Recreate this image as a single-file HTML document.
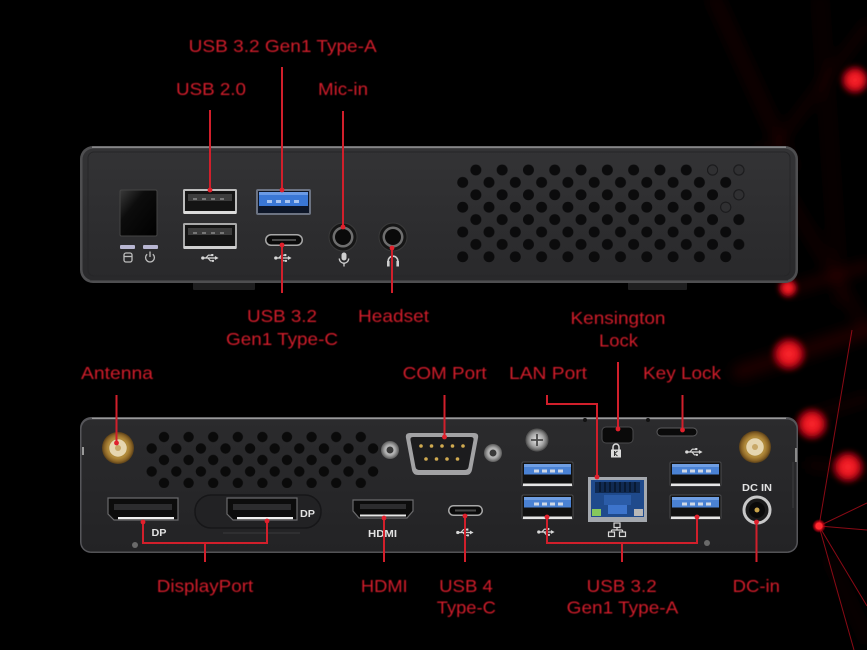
<!DOCTYPE html>
<html><head><meta charset="utf-8">
<style>
html,body{margin:0;padding:0;background:#000;}
svg{display:block}
text.l{font-family:"Liberation Sans",Arial,sans-serif;font-size:17.5px;fill:#d11f2b;}
text.w{font-family:"Liberation Sans",Arial,sans-serif;font-weight:bold;font-size:10.5px;fill:#e2e2e2;}
</style></head>
<body>
<svg width="867" height="650" viewBox="0 0 867 650" xmlns="http://www.w3.org/2000/svg">
<defs>
  <filter id="bs" x="-50%" y="-50%" width="200%" height="200%"><feGaussianBlur stdDeviation="6"/></filter>
  <filter id="bg" x="-80%" y="-80%" width="260%" height="260%"><feGaussianBlur stdDeviation="2.5"/></filter>
  <filter id="bt" x="-20%" y="-20%" width="140%" height="140%"><feGaussianBlur stdDeviation="0.5"/></filter>
  <radialGradient id="rd"><stop offset="0" stop-color="#ff2a30"/><stop offset="0.5" stop-color="#e0101c"/><stop offset="0.8" stop-color="#a00010" stop-opacity="0.6"/><stop offset="1" stop-color="#600008" stop-opacity="0"/></radialGradient>
  <linearGradient id="faceF" x1="0" y1="0" x2="0" y2="1"><stop offset="0" stop-color="#333335"/><stop offset="1" stop-color="#29292b"/></linearGradient>
  <linearGradient id="faceB" x1="0" y1="0" x2="0" y2="1"><stop offset="0" stop-color="#2b2b2d"/><stop offset="1" stop-color="#232325"/></linearGradient>
  <linearGradient id="gloss" x1="0" y1="0" x2="1" y2="1"><stop offset="0" stop-color="#3a3a3a"/><stop offset="0.35" stop-color="#0c0c0c"/><stop offset="1" stop-color="#000"/></linearGradient>
  <radialGradient id="gold"><stop offset="0" stop-color="#f2e6c8"/><stop offset="0.3" stop-color="#e0c890"/><stop offset="0.6" stop-color="#b8903e"/><stop offset="0.85" stop-color="#8a6426"/><stop offset="1" stop-color="#5a4018"/></radialGradient>
  <radialGradient id="silver"><stop offset="0" stop-color="#e8e8e8"/><stop offset="0.6" stop-color="#a8a8a8"/><stop offset="1" stop-color="#5a5a5a"/></radialGradient>
  <pattern id="ventF" patternUnits="userSpaceOnUse" x="449.55" y="163.8" width="26.3" height="24.8">
    <circle cx="0" cy="6.2" r="5.5" fill="#0b0b0c"/>
    <circle cx="26.3" cy="6.2" r="5.5" fill="#0b0b0c"/>
    <circle cx="13.15" cy="18.6" r="5.5" fill="#0b0b0c"/>
  </pattern>
  <pattern id="ventB" patternUnits="userSpaceOnUse" x="139.4" y="431.25" width="24.6" height="23">
    <circle cx="0" cy="5.75" r="5.2" fill="#0a0a0a"/>
    <circle cx="24.6" cy="5.75" r="5.2" fill="#0a0a0a"/>
    <circle cx="12.3" cy="17.25" r="5.2" fill="#0a0a0a"/>
  </pattern>
  <symbol id="usb" viewBox="0 0 22 11">
    <circle cx="2.2" cy="5.5" r="2" fill="#d8d8d8"/>
    <path d="M2 5.5H18" stroke="#d8d8d8" stroke-width="1.6" fill="none"/>
    <path d="M17 3L21.5 5.5L17 8Z" fill="#d8d8d8"/>
    <path d="M6 5.5L9 2H13" stroke="#d8d8d8" stroke-width="1.4" fill="none"/>
    <rect x="12.5" y="0.6" width="2.6" height="2.6" fill="#d8d8d8"/>
    <path d="M8.5 5.5L11.5 9H14" stroke="#d8d8d8" stroke-width="1.4" fill="none"/>
    <circle cx="14.6" cy="9" r="1.4" fill="#d8d8d8"/>
  </symbol>
  <g id="usb3p">
    <rect width="51" height="24" rx="1.5" fill="#111" stroke="#4a4a4c" stroke-width="1"/>
    <rect x="2" y="2" width="47" height="10.5" fill="#4a82d4"/>
    <rect x="2" y="2" width="47" height="3" fill="#6f9ee2"/>
    <rect x="12" y="7.5" width="5" height="3" fill="#cfd8e6"/>
    <rect x="20" y="7.5" width="5" height="3" fill="#cfd8e6"/>
    <rect x="28" y="7.5" width="5" height="3" fill="#cfd8e6"/>
    <rect x="36" y="7.5" width="5" height="3" fill="#cfd8e6"/>
    <rect x="1" y="21.5" width="49" height="2.5" fill="#e6e6e6"/>
  </g>
  <g id="dpp">
    <path d="M0 0H70V22H6L0 16Z" fill="#0c0c0c" stroke="#6a6a6c" stroke-width="1.2"/>
    <rect x="6" y="6" width="58" height="6" fill="#2c2c2e"/>
    <rect x="10" y="19" width="56" height="2.2" fill="#f0f0f0"/>
  </g>
</defs>

<!-- background -->
<rect width="867" height="650" fill="#000"/>
<g filter="url(#bs)" fill="none" stroke-linecap="round">
  <path d="M715 0L790 165" stroke="#3a0408" stroke-width="14" opacity="0.3"/>
  <path d="M867 25L772 150" stroke="#3a0408" stroke-width="10" opacity="0.28"/>
  <path d="M760 150L867 330" stroke="#3a0408" stroke-width="12" opacity="0.25"/>
  <path d="M820 0L840 300" stroke="#300306" stroke-width="12" opacity="0.25"/>
  <path d="M740 372L867 330" stroke="#4a060c" stroke-width="16" opacity="0.38"/>
  <path d="M790 290L867 266" stroke="#4a060c" stroke-width="10" opacity="0.38"/>
  <path d="M800 420L867 398" stroke="#3a0408" stroke-width="10" opacity="0.3"/>
  <path d="M810 465L867 472" stroke="#3a0408" stroke-width="10" opacity="0.3"/>
  <path d="M830 560L867 640" stroke="#300306" stroke-width="10" opacity="0.25"/>
</g>
<g stroke="#b80e1c" stroke-width="1" fill="none" opacity="0.75">
  <path d="M819 526L852 330"/>
  <path d="M819 526L867 503"/>
  <path d="M819 526L867 530"/>
  <path d="M819 526L867 606"/>
  <path d="M819 526L854 650"/>
</g>
<g>
  <circle cx="855" cy="80" r="16" fill="url(#rd)" filter="url(#bg)"/>
  <circle cx="788" cy="288" r="11" fill="url(#rd)" filter="url(#bg)"/>
  <circle cx="789" cy="354" r="19" fill="url(#rd)" filter="url(#bg)"/>
  <circle cx="812" cy="424" r="18" fill="url(#rd)" filter="url(#bg)"/>
  <circle cx="848" cy="467" r="18" fill="url(#rd)" filter="url(#bg)"/>
  <circle cx="819" cy="526" r="7" fill="url(#rd)"/>
  <circle cx="819" cy="526" r="3.5" fill="#ff2a30"/>
</g>

<!-- ================= FRONT CHASSIS ================= -->
<rect x="193" y="281" width="62" height="9" rx="1" fill="#1e1e1f"/>
<rect x="628" y="281" width="59" height="9" rx="1" fill="#1e1e1f"/>
<rect x="80" y="146" width="718" height="137" rx="13" fill="#4e4e50"/>
<rect x="82.5" y="148.5" width="713" height="132" rx="11" fill="url(#faceF)"/>
<path d="M92 147.2H786" stroke="#8e8e90" stroke-width="1.3"/>
<path d="M90 280.5H788" stroke="#3e3e40" stroke-width="1"/>
<rect x="88" y="152" width="702" height="124" rx="6" fill="none" stroke="#262628" stroke-width="1"/>

<!-- front vent -->
<rect x="456" y="164" width="290" height="99.5" fill="url(#ventF)"/>
<g fill="#303032" stroke="#1c1c1e" stroke-width="1">
  <circle cx="712.6" cy="170" r="5"/>
  <circle cx="738.9" cy="170" r="5"/>
  <circle cx="738.9" cy="194.8" r="5"/>
  <circle cx="725.7" cy="207.2" r="5"/>
</g>

<!-- power button & LEDs -->
<rect x="120" y="190" width="37" height="46" rx="1.5" fill="url(#gloss)" stroke="#444" stroke-width="1"/>
<rect x="120" y="245" width="15" height="4" rx="1" fill="#b8b6d2"/>
<rect x="143" y="245" width="15" height="4" rx="1" fill="#b8b6d2"/>
<g stroke="#bdbdbd" stroke-width="1.3" fill="none">
  <rect x="124" y="253" width="8" height="9" rx="2"/>
  <path d="M124 256.5H132"/>
  <path d="M147.2 254.2A4.4 4.4 0 1 0 152.8 254.2"/>
  <path d="M150 251.5V257"/>
</g>

<!-- USB 2.0 ports -->
<g transform="translate(183,189)">
  <rect width="54" height="25" rx="1.5" fill="#bdbdbd"/>
  <rect x="2" y="2" width="50" height="20" fill="#141414"/>
  <rect x="5" y="5" width="44" height="7" fill="#3c3c3c"/>
  <rect x="10" y="9" width="4" height="2" fill="#777"/><rect x="19" y="9" width="4" height="2" fill="#777"/><rect x="28" y="9" width="4" height="2" fill="#777"/><rect x="37" y="9" width="4" height="2" fill="#777"/>
  <rect x="1" y="22" width="52" height="3" fill="#dcdcdc"/>
</g>
<g transform="translate(183,223)">
  <rect width="54" height="26" rx="1.5" fill="#a9a9a9"/>
  <rect x="2" y="2" width="50" height="21" fill="#141414"/>
  <rect x="5" y="5" width="44" height="7" fill="#3c3c3c"/>
  <rect x="10" y="9" width="4" height="2" fill="#777"/><rect x="19" y="9" width="4" height="2" fill="#777"/><rect x="28" y="9" width="4" height="2" fill="#777"/><rect x="37" y="9" width="4" height="2" fill="#777"/>
  <rect x="1" y="23" width="52" height="3" fill="#cfcfcf"/>
</g>
<use href="#usb" x="201" y="253.5" width="18" height="9"/>

<!-- USB 3.2 blue front -->
<g transform="translate(256,189)">
  <rect width="55" height="26" rx="2" fill="#6c7382"/>
  <rect x="2" y="2" width="51" height="22" fill="#0d1628"/>
  <rect x="3" y="3" width="49" height="14" fill="#3a77d6"/>
  <rect x="3" y="3" width="49" height="3" fill="#6a9ae6"/>
  <rect x="11" y="11" width="5" height="3" fill="#a8c4f0"/><rect x="20" y="11" width="5" height="3" fill="#a8c4f0"/><rect x="29" y="11" width="5" height="3" fill="#a8c4f0"/><rect x="38" y="11" width="5" height="3" fill="#a8c4f0"/>
</g>
<!-- USB-C front -->
<rect x="265" y="234" width="38" height="12" rx="6" fill="#a8a8a8"/>
<rect x="266.5" y="235.5" width="35" height="9" rx="4.5" fill="#0a0a0a"/>
<rect x="272" y="239" width="24" height="2" fill="#4a4a4a"/>
<use href="#usb" x="274" y="253.5" width="18" height="9"/>

<!-- audio jacks -->
<circle cx="343" cy="237" r="14" fill="#161616" stroke="#3a3a3a" stroke-width="1"/>
<circle cx="343" cy="237" r="10.5" fill="#6e6e6e"/>
<circle cx="343" cy="237" r="8" fill="#0a0a0a"/>
<circle cx="393" cy="237" r="14" fill="#161616" stroke="#3a3a3a" stroke-width="1"/>
<circle cx="393" cy="237" r="10.5" fill="#6e6e6e"/>
<circle cx="393" cy="237" r="8" fill="#0a0a0a"/>
<g fill="#cfcfcf" stroke="#cfcfcf">
  <rect x="341.5" y="252.5" width="5" height="8" rx="2.5" stroke="none"/>
  <path d="M339.3 258.5A4.7 4.7 0 0 0 348.7 258.5" fill="none" stroke-width="1.3"/>
  <path d="M344 263.2V266.5" stroke-width="1.3"/>
  <path d="M388.2 264V261A4.8 4.8 0 0 1 397.8 261V264" fill="none" stroke-width="1.6"/>
  <rect x="387" y="261" width="2.6" height="5.5" stroke="none"/>
  <rect x="396.4" y="261" width="2.6" height="5.5" stroke="none"/>
</g>

<!-- ================= BACK CHASSIS ================= -->
<rect x="80" y="417" width="718" height="136" rx="11" fill="#56565a"/>
<rect x="81.5" y="419.5" width="715" height="132" rx="9.5" fill="url(#faceB)"/>
<path d="M92 418.4H786" stroke="#9a9a9a" stroke-width="1.3"/>
<path d="M90 551.8H788" stroke="#444446" stroke-width="1"/>
<circle cx="585" cy="420" r="2" fill="#111"/>
<circle cx="648" cy="420" r="2" fill="#111"/>
<rect x="82" y="447" width="2" height="8" fill="#9a9a9a"/>
<rect x="795" y="448" width="2" height="14" fill="#8a8a8a"/>
<path d="M793 462V508" stroke="#3a3a3c" stroke-width="1.2"/>

<!-- back vent -->
<rect x="146" y="431.5" width="233" height="56.5" fill="url(#ventB)"/>

<!-- antennas -->
<circle cx="118" cy="448" r="16" fill="url(#gold)"/>
<circle cx="118" cy="448" r="9.5" fill="#e6d6b0" stroke="#b08a3c" stroke-width="1.5"/>
<circle cx="118" cy="448" r="3" fill="#c8a868"/>
<circle cx="755" cy="447" r="16" fill="url(#gold)"/>
<circle cx="755" cy="447" r="9.5" fill="#e6d6b0" stroke="#b08a3c" stroke-width="1.5"/>
<circle cx="755" cy="447" r="3" fill="#c8a868"/>

<!-- standoffs -->
<circle cx="390" cy="450" r="9" fill="url(#silver)"/>
<circle cx="390" cy="450" r="3.5" fill="#3a3a3a"/>
<circle cx="493" cy="453" r="9" fill="url(#silver)"/>
<circle cx="493" cy="453" r="3.5" fill="#3a3a3a"/>

<!-- COM port -->
<path d="M410 433H474Q479 433 478 438L472 470Q471 475 466 475H418Q413 475 412 470L406 438Q405 433 410 433Z" fill="#a2a2a4"/>
<path d="M413 437H471Q474 437 473.5 440L468.5 467Q468 470 464 470H420Q416 470 415.5 467L410.5 440Q410 437 413 437Z" fill="#1c1c1e"/>
<g fill="#d0aa50">
  <circle cx="421" cy="446" r="1.8"/><circle cx="431.5" cy="446" r="1.8"/><circle cx="442" cy="446" r="1.8"/><circle cx="452.5" cy="446" r="1.8"/><circle cx="463" cy="446" r="1.8"/>
  <circle cx="426" cy="459" r="1.8"/><circle cx="436.5" cy="459" r="1.8"/><circle cx="447" cy="459" r="1.8"/><circle cx="457.5" cy="459" r="1.8"/>
</g>

<!-- DP ports -->
<use href="#dpp" x="108" y="498"/>
<text class="w" x="159" y="536" text-anchor="middle" textLength="15" lengthAdjust="spacingAndGlyphs">DP</text>
<rect x="195" y="495" width="126" height="33" rx="16" fill="#222224" stroke="#161618" stroke-width="1.5"/>
<path d="M223 533H300" stroke="#3a3a3c" stroke-width="1"/>
<use href="#dpp" x="227" y="498"/>
<text class="w" x="307.5" y="517" text-anchor="middle" textLength="15" lengthAdjust="spacingAndGlyphs">DP</text>

<!-- HDMI -->
<path d="M353 500H413V511L407 518H359L353 511Z" fill="#0c0c0c" stroke="#6a6a6c" stroke-width="1.2"/>
<rect x="360" y="504" width="46" height="5" fill="#2c2c2e"/>
<path d="M360 515.5H406" stroke="#e6e6e6" stroke-width="2"/>
<text class="w" x="382.5" y="537" text-anchor="middle" textLength="29" lengthAdjust="spacingAndGlyphs">HDMI</text>

<!-- USB4 type-C -->
<rect x="448" y="505" width="35" height="11" rx="5.5" fill="#a8a8a8"/>
<rect x="449.5" y="506.5" width="32" height="8" rx="4" fill="#0a0a0a"/>
<rect x="455" y="509.5" width="21" height="2" fill="#4a4a4a"/>
<use href="#usb" x="456" y="528" width="18" height="9"/>

<!-- thumb screw -->
<circle cx="537" cy="440" r="11" fill="url(#silver)" stroke="#555" stroke-width="1"/>
<path d="M531 440H543M537 434V446" stroke="#4a4a4a" stroke-width="1.8"/>

<!-- USB3 back ports -->
<use href="#usb3p" x="522" y="462"/>
<use href="#usb3p" x="522" y="495"/>
<use href="#usb3p" x="670" y="462"/>
<use href="#usb3p" x="670" y="495"/>
<use href="#usb" x="537" y="527.5" width="18" height="9"/>
<use href="#usb" x="685" y="447.5" width="18" height="9"/>

<!-- LAN -->
<rect x="588" y="477" width="59" height="45" fill="#a4a8ae"/>
<rect x="591" y="480" width="53" height="37" fill="#1f4a8c"/>
<rect x="595" y="482" width="45" height="11" fill="#102a52"/>
<g stroke="#05101f" stroke-width="1.2">
  <path d="M600 482V492M605 482V492M610 482V492M615 482V492M620 482V492M625 482V492M630 482V492M635 482V492"/>
</g>
<rect x="604" y="495" width="27" height="10" fill="#2b5ca8"/>
<rect x="608" y="505" width="19" height="9" fill="#3d74cc"/>
<rect x="592" y="509" width="9" height="7" fill="#86c85c"/>
<rect x="634" y="509" width="9" height="7" fill="#b8b8b8"/>
<g stroke="#d8d8d8" stroke-width="1.2" fill="none">
  <rect x="614" y="523" width="6" height="4.5"/>
  <path d="M617 527.5V530M611.5 530H622.5M611.5 530V532M622.5 530V532"/>
  <rect x="608.5" y="532" width="6" height="4.5"/>
  <rect x="619.5" y="532" width="6" height="4.5"/>
</g>

<!-- Kensington slot & key lock -->
<rect x="602" y="427" width="31" height="16" rx="4" fill="#0a0a0a" stroke="#4a4a4c" stroke-width="1"/>
<path d="M613 449.5V447A3 3 0 0 1 619 447V449.5" stroke="#dcdcdc" stroke-width="1.5" fill="none"/>
<rect x="611" y="449.5" width="10" height="8" fill="#dcdcdc"/>
<path d="M614.5 451V456M614.5 453.5L617.5 451M614.5 453.5L617.5 456" stroke="#333" stroke-width="1"/>
<rect x="657" y="428" width="40" height="8" rx="4" fill="#0a0a0a" stroke="#5a5a5c" stroke-width="1"/>

<!-- DC IN -->
<text class="w" x="757" y="491" text-anchor="middle" textLength="30" lengthAdjust="spacingAndGlyphs">DC IN</text>
<circle cx="757" cy="510" r="13" fill="#1a1a1a" stroke="#c8c8c8" stroke-width="3"/>
<circle cx="757" cy="510" r="8" fill="#0a0a0a"/>
<circle cx="757" cy="510" r="2.5" fill="#c9a44a"/>

<circle cx="135" cy="545" r="3" fill="#6a6a6a"/>
<circle cx="707" cy="543" r="3" fill="#6a6a6a"/>

<!-- ================= CONNECTOR LINES ================= -->
<g stroke="#d11f2b" stroke-width="2" fill="none">
  <path d="M210 110V190"/>
  <path d="M282 67V190"/>
  <path d="M343 111V227"/>
  <path d="M282 245V293"/>
  <path d="M392 248V293"/>
  <path d="M116.5 395V443"/>
  <path d="M444.5 395V437"/>
  <path d="M547 395V404H597V477"/>
  <path d="M618 362V429"/>
  <path d="M682.5 395V430"/>
  <path d="M143 522V543H267V521"/>
  <path d="M205 543V562"/>
  <path d="M384 518V562"/>
  <path d="M465 516V562"/>
  <path d="M547 517V543H697V517"/>
  <path d="M622 543V562"/>
  <path d="M756.5 522V562"/>
</g>
<g fill="#e0202c">
  <circle cx="210" cy="190" r="2.4"/>
  <circle cx="282" cy="190" r="2.4"/>
  <circle cx="343" cy="227" r="2.4"/>
  <circle cx="282" cy="245" r="2.4"/>
  <circle cx="392" cy="248" r="2.4"/>
  <circle cx="116.5" cy="443" r="2.4"/>
  <circle cx="444.5" cy="437" r="2.4"/>
  <circle cx="597" cy="477" r="2.4"/>
  <circle cx="618" cy="429" r="2.4"/>
  <circle cx="682.5" cy="430" r="2.4"/>
  <circle cx="143" cy="522" r="2.4"/>
  <circle cx="267" cy="521" r="2.4"/>
  <circle cx="384" cy="518" r="2.4"/>
  <circle cx="465" cy="516" r="2.4"/>
  <circle cx="547" cy="517" r="2.4"/>
  <circle cx="697" cy="517" r="2.4"/>
  <circle cx="756.5" cy="522" r="2.4"/>
</g>

<!-- ================= LABELS ================= -->
<g filter="url(#bt)">
<text class="l" x="282.7" y="52" text-anchor="middle" textLength="188" lengthAdjust="spacingAndGlyphs">USB 3.2 Gen1 Type-A</text>
<text class="l" x="211" y="95" text-anchor="middle" textLength="70" lengthAdjust="spacingAndGlyphs">USB 2.0</text>
<text class="l" x="343" y="95" text-anchor="middle" textLength="50" lengthAdjust="spacingAndGlyphs">Mic-in</text>
<text class="l" x="282" y="322" text-anchor="middle" textLength="70" lengthAdjust="spacingAndGlyphs">USB 3.2</text>
<text class="l" x="282" y="345" text-anchor="middle" textLength="112" lengthAdjust="spacingAndGlyphs">Gen1 Type-C</text>
<text class="l" x="393.5" y="322" text-anchor="middle" textLength="71" lengthAdjust="spacingAndGlyphs">Headset</text>
<text class="l" x="618" y="324" text-anchor="middle" textLength="95" lengthAdjust="spacingAndGlyphs">Kensington</text>
<text class="l" x="618.5" y="346.5" text-anchor="middle" textLength="39" lengthAdjust="spacingAndGlyphs">Lock</text>
<text class="l" x="117" y="379" text-anchor="middle" textLength="72" lengthAdjust="spacingAndGlyphs">Antenna</text>
<text class="l" x="444.7" y="379" text-anchor="middle" textLength="84" lengthAdjust="spacingAndGlyphs">COM Port</text>
<text class="l" x="548" y="379" text-anchor="middle" textLength="78" lengthAdjust="spacingAndGlyphs">LAN Port</text>
<text class="l" x="682" y="379" text-anchor="middle" textLength="78" lengthAdjust="spacingAndGlyphs">Key Lock</text>
<text class="l" x="205" y="592" text-anchor="middle" textLength="96.5" lengthAdjust="spacingAndGlyphs">DisplayPort</text>
<text class="l" x="384.3" y="592" text-anchor="middle" textLength="46.7" lengthAdjust="spacingAndGlyphs">HDMI</text>
<text class="l" x="466" y="592" text-anchor="middle" textLength="53.7" lengthAdjust="spacingAndGlyphs">USB 4</text>
<text class="l" x="466.3" y="613.5" text-anchor="middle" textLength="59" lengthAdjust="spacingAndGlyphs">Type-C</text>
<text class="l" x="621.7" y="592" text-anchor="middle" textLength="70" lengthAdjust="spacingAndGlyphs">USB 3.2</text>
<text class="l" x="622.5" y="613.5" text-anchor="middle" textLength="111.6" lengthAdjust="spacingAndGlyphs">Gen1 Type-A</text>
<text class="l" x="756.3" y="592" text-anchor="middle" textLength="47.3" lengthAdjust="spacingAndGlyphs">DC-in</text>
</g>
</svg>
</body></html>
